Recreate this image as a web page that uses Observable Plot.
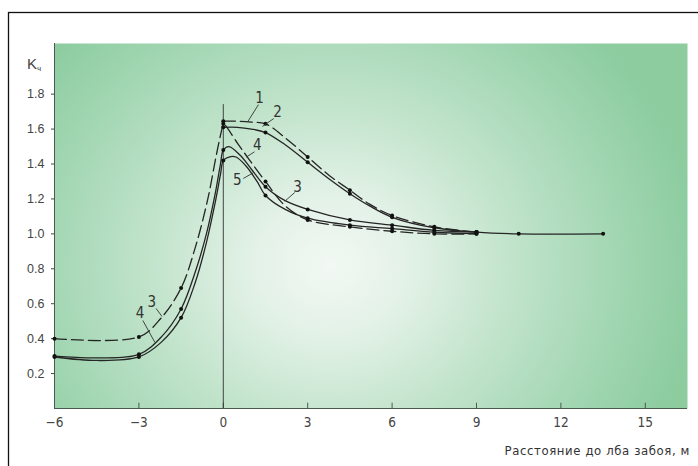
<!DOCTYPE html>
<html><head><meta charset="utf-8">
<script src="https://cdn.jsdelivr.net/npm/d3@7"></script>
<script src="https://cdn.jsdelivr.net/npm/@observablehq/plot@0.6"></script>
<style>body{margin:0;background:#fff;overflow:hidden}</style>
</head><body><div id="chart"></div>
<script>
// Curve 1 (dashed, top)
const s1X = [0, 0.5, 1.0, 1.5, 2.2, 3, 3.8, 4.5, 5.2, 6, 7.5, 9];
const s1Y = [1.645, 1.645, 1.64, 1.63, 1.55, 1.44, 1.33, 1.25, 1.17, 1.105, 1.04, 1.01];
// Curve 2 (solid)
const s2X = [0, 0.5, 1.0, 1.5, 2.2, 3, 3.8, 4.5, 5.2, 6, 7.5, 9, 10.5, 13.5];
const s2Y = [1.61, 1.61, 1.60, 1.58, 1.51, 1.41, 1.31, 1.23, 1.16, 1.095, 1.035, 1.01, 1.0, 1.0];
// Curve 3 (dashed, rises from 0.4)
const s3X = [-6, -3, -2.2, -1.5, -1.0, -0.55, -0.25, -0.05, 0, 0.5, 0.9, 1.5, 2.2, 3, 4.5, 6, 7.5, 9];
const s3Y = [0.40, 0.41, 0.52, 0.69, 0.92, 1.2, 1.45, 1.6, 1.63, 1.52, 1.43, 1.30, 1.16, 1.08, 1.04, 1.015, 1.0, 1.0];
// Curve 4 (solid, upper of the two low curves)
const s4X = [-6, -4.5, -3, -2.2, -1.5, -1.0, -0.6, -0.3, -0.1, 0, 0.2, 0.6, 1.0, 1.5, 2.2, 3, 4.5, 6, 7.5, 9];
const s4Y = [0.30, 0.29, 0.31, 0.41, 0.57, 0.78, 1.0, 1.22, 1.4, 1.48, 1.50, 1.45, 1.37, 1.27, 1.19, 1.14, 1.08, 1.05, 1.02, 1.01];
// Curve 5 (solid, lowest)
const s5X = [-6, -4.5, -3, -2.2, -1.5, -1.0, -0.6, -0.3, -0.1, 0, 0.2, 0.45, 0.8, 1.2, 1.5, 2.2, 3, 4.5, 6, 7.5, 9];
const s5Y = [0.295, 0.275, 0.295, 0.38, 0.52, 0.72, 0.95, 1.17, 1.34, 1.42, 1.44, 1.44, 1.39, 1.30, 1.22, 1.14, 1.09, 1.05, 1.03, 1.01, 1.0];

// measured (marked) stations
const markedX = [-6, -3, -1.5, 0, 1.5, 3, 4.5, 6, 7.5, 9, 10.5, 13.5];

const xTicks = [-6, -3, 0, 3, 6, 9, 12, 15];
const yTicks = [0.2, 0.4, 0.6, 0.8, 1.0, 1.2, 1.4, 1.6, 1.8];

// curve labels and leaders
const labelText = ["1", "2", "4", "5", "3", "3", "4"];
const labelX = [1.29, 1.93, 1.21, 0.50, 2.64, -2.54, -2.96];
const labelY = [1.775, 1.695, 1.506, 1.306, 1.266, 0.607, 0.544];
const leadX1 = [1.25, 1.79, 1.11, 0.71, 2.54, -2.39, -2.86];
const leadY1 = [1.74, 1.66, 1.47, 1.317, 1.237, 0.573, 0.504];
const leadX2 = [0.86, 1.39, 0.82, 1.07, 2.18, -2.18, -2.43];
const leadY2 = [1.64, 1.615, 1.44, 1.35, 1.186, 0.527, 0.378];

const xLabel = "Расстояние до лба забоя, м";

const series = [
  {name: "1", xs: s1X, ys: s1Y, dashed: true},
  {name: "2", xs: s2X, ys: s2Y, dashed: false},
  {name: "3", xs: s3X, ys: s3Y, dashed: true},
  {name: "4", xs: s4X, ys: s4Y, dashed: false},
  {name: "5", xs: s5X, ys: s5Y, dashed: false}
];
const rows = series.flatMap(s => s.xs.map((x, i) => ({series: s.name, x, y: s.ys[i], dashed: s.dashed})));
const dots = rows.filter(d => markedX.includes(d.x));
const labels = labelText.map((t, i) => ({t, x: labelX[i], y: labelY[i], x1: leadX1[i], y1: leadY1[i], x2: leadX2[i], y2: leadY2[i]}));

const cadFont = "'DejaVu Sans Condensed', 'DejaVu Sans', sans-serif";

const svg = Plot.plot({
  width: 698,
  height: 466,
  marginLeft: 54,
  marginRight: 11,
  marginTop: 43,
  marginBottom: 58,
  style: {background: "transparent", fontFamily: "'Liberation Sans', Arial, sans-serif"},
  x: {domain: [-6, 16.5]},
  y: {domain: [0, 2.09]},
  marks: [
    Plot.frame({fill: "url(#bg)", stroke: null}),
    Plot.ruleY([0], {stroke: "#4a5a4e", strokeWidth: 1}),
    Plot.ruleX([-6], {stroke: "#4a5a4e", strokeWidth: 1}),
    Plot.ruleX(xTicks, {y1: 0, y2: 0.03, stroke: "#4a5a4e", strokeWidth: 1}),
    Plot.ruleX([0], {y1: 0, y2: 1.74, stroke: "#333", strokeWidth: 0.9}),
    Plot.axisX({ticks: xTicks, tickSize: 0, tickPadding: 9, fontSize: 13.5, fontFamily: cadFont, fill: "#444", tickFormat: d => d < 0 ? "\u2212" + Math.abs(d) : String(d)}),
    Plot.axisY({ticks: yTicks, tickSize: 3, tickPadding: 7, fontSize: 12.5, fill: "#444", stroke: "#444", tickFormat: d => d.toFixed(1)}),
    Plot.line(rows.filter(d => !d.dashed), {x: "x", y: "y", z: "series", curve: "catmull-rom", stroke: "#252525", strokeWidth: 1.3}),
    Plot.line(rows.filter(d => d.dashed), {x: "x", y: "y", z: "series", curve: "catmull-rom", stroke: "#252525", strokeWidth: 1.3, strokeDasharray: "12,5"}),
    Plot.dot(dots, {x: "x", y: "y", r: 2, fill: "#111", stroke: null}),
    Plot.link(labels, {x1: "x1", y1: "y1", x2: "x2", y2: "y2", stroke: "#333", strokeWidth: 0.9}),
    Plot.text(labels, {x: "x", y: "y", text: "t", fontSize: 15, fontFamily: cadFont, fill: "#333"})
  ]
});

const s = d3.select(svg);
const defs = s.insert("defs", ":first-child");
const g = defs.append("radialGradient").attr("id", "bg").attr("gradientUnits", "userSpaceOnUse")
  .attr("cx", 330).attr("cy", 265).attr("r", 370)
  .attr("gradientTransform", "translate(330,265) scale(1,0.9) translate(-330,-265)");
[[0, "#f2f8f3"], [0.2, "#e4f2e8"], [0.5, "#c0e3ca"], [0.8, "#9fd5b0"], [1, "#8ccc9f"]]
  .forEach(([o, c]) => g.append("stop").attr("offset", o).attr("stop-color", c));

s.insert("rect", "defs + *").attr("x", 8.5).attr("y", 12.5).attr("width", 720).attr("height", 480)
  .attr("fill", "none").attr("stroke", "#111").attr("stroke-width", 1.3);

const kt = s.append("text").attr("x", 34).attr("y", 69).attr("font-family", "'Liberation Sans', Arial, sans-serif")
  .attr("font-size", 15).attr("fill", "#444").text("K");
kt.append("tspan").attr("font-size", 8).attr("dy", 2).text("ч");

s.append("text").attr("x", 690).attr("y", 455).attr("text-anchor", "end")
  .attr("font-family", cadFont).attr("font-size", 13).attr("letter-spacing", 0.6)
  .attr("fill", "#333").text(xLabel);

document.getElementById("chart").appendChild(svg);
</script>
</body></html>
